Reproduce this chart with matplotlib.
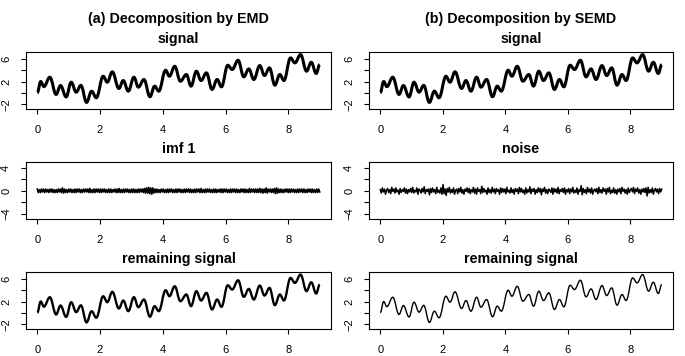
import numpy as np
import matplotlib
matplotlib.use("Agg")
import matplotlib.pyplot as plt
from matplotlib.path import Path
from matplotlib.patches import PathPatch

plt.rcParams['font.family'] = ['Liberation Sans', 'DejaVu Sans']

# ---- data ----
# turning points (peaks / troughs) of the smooth remaining signal
ext_x = [0.0, 0.11, 0.21, 0.40, 0.60, 0.74, 0.92, 1.08, 1.24, 1.39, 1.57, 1.73, 1.88,
         2.10, 2.23, 2.39, 2.60, 2.74, 2.90, 3.08, 3.22, 3.40, 3.59, 3.74, 3.87,
         4.09, 4.21, 4.38, 4.56, 4.75, 4.90, 5.07, 5.22, 5.39, 5.57, 5.73, 5.87,
         6.07, 6.21, 6.40, 6.58, 6.74, 6.90, 7.09, 7.24, 7.40, 7.57, 7.73, 7.86,
         8.07, 8.21, 8.39, 8.58, 8.73, 8.89, 9.0]
ext_y = [0.05, 2.0, 1.1, 2.75, -0.26, 1.3, -0.7, 1.88, 0.14, 1.33, -1.65, 0.31, -0.84,
         2.92, 1.88, 3.69, 0.78, 2.17, 0.31, 2.75, 1.01, 2.35, -0.66, 1.19, 0.31,
         3.97, 2.92, 4.66, 2.05, 3.22, 1.19, 3.8, 2.17, 3.51, 0.61, 2.35, 1.07,
         4.84, 4.09, 5.71, 2.81, 4.2, 2.35, 4.78, 3.04, 4.38, 1.36, 3.22, 2.17,
         6.12, 5.25, 6.7, 3.8, 5.36, 3.39, 4.96]

# high-frequency noise removed by SEMD (values estimated from the band)
noise_semd = [
    0.2, -0.4, 0.5, -0.2, 0.3, -0.6, 0.1, 0.4, -0.3, 0.2, -0.5, 0.6, -0.1, 0.3, -0.4, 0.5, -0.2, 0.1, -0.6, 0.4, -0.3, 0.2, -0.1, 0.5, -0.4, 0.3, -0.5, 0.2, -0.2, 0.4,
    -0.3, 0.6, -0.4, 0.1, -0.2, 0.5, -0.6, 0.3, 0.1, -0.4, 0.4, -0.2, 0.7, -0.5, 0.2, -0.1, 0.3, -0.7, 0.4, -0.3, 0.5, -0.2, 0.2, -0.5, 0.6, -0.3, 0.1, -0.4, 0.5, -0.6,
    1.1, -0.5, 0.3, -0.8, 0.4, -0.2, 0.6, -0.4, 0.2, -0.3, 0.5, -0.6, 0.1, 0.3, -0.5, 0.4, -0.2, 0.6, -0.4, 0.2, -0.6, 0.3, -0.1, 0.5, -0.3, 0.4, -0.5, 0.2, -0.2, 0.6,
    -0.4, 0.3, -0.6, 0.5, -0.1, 0.2, -0.5, 0.8, -0.3, 0.4, -0.2, 0.1, -0.6, 0.5, -0.3, 0.2, -0.4, 0.6, -0.2, 0.3, -0.5, 0.4, -0.1, 0.2, -0.6, 0.5, -0.3, 0.4, -0.2, 0.3,
    -0.5, 0.6, -0.2, 0.1, -0.4, 0.5, -0.3, 0.2, -0.6, 0.4, -0.1, 0.3, -0.5, 0.6, -0.2, 0.4, -0.3, 0.1, -0.6, 0.5, -0.4, 0.2, -0.2, 0.7, -0.5, 0.3, -0.1, 0.4, -0.6, 0.2,
    -0.3, 0.5, -0.2, 0.4, -0.7, 0.3, -0.1, 0.6, -0.4, 0.2, -0.5, 0.3, 0.1, -0.3, 0.5, -0.6, 0.4, -0.2, 0.3, -0.4, 0.6, -0.5, 0.2, -0.1, 0.4, -0.3, 0.5, -0.6, 0.2, -0.2,
    0.4, -0.5, 0.3, -0.2, 0.6, -0.4, 0.1, -0.3, 0.5, -0.6, 0.2, -0.1, 0.9, -0.7, 0.4, -0.3, 0.2, -0.5, 0.6, -0.2, 0.3, -0.4, 0.5, -0.6, 0.1, 0.3, -0.2, 0.4, -0.5, 0.6,
    -0.3, 0.2, -0.4, 0.5, -0.1, 0.3, -0.6, 0.4, -0.2, 0.6, -0.5, 0.1, -0.3, 0.5, -0.4, 0.2, -0.6, 0.3, -0.2, 0.4, -0.5, 0.6, -0.1, 0.3, -0.4, 0.2, -0.6, 0.5, -0.3, 0.1,
    0.4, -0.2, 0.6, -0.5, 0.3, -0.1, 0.5, -0.4, 0.2, -0.6, 0.3, -0.2, 0.4, -0.3, 0.5, -0.9, 0.6, -0.4, 0.2, -0.3, 0.5, -0.6, 0.1, 0.4, -0.2, 0.3, -0.5, 0.4, -0.2, 0.3,
]

# first IMF from EMD (values estimated from the band)
imf1 = [
    0.3, -0.3, 0.2, -0.3, 0.3, -0.2, 0.3, -0.3, 0.3, -0.2, 0.2, -0.3, 0.3, -0.2, 0.3, -0.3, 0.2, -0.3, 0.2, -0.3, 0.3, -0.2, 0.3, -0.3, 0.5, -0.4, 0.3, -0.3, 0.2, -0.3,
    0.3, -0.2, 0.3, -0.3, 0.2, -0.3, 0.3, -0.3, 0.3, -0.2, 0.3, -0.3, 0.2, -0.3, 0.3, -0.2, 0.3, -0.2, 0.3, -0.3, 0.4, -0.3, 0.2, -0.3, 0.3, -0.3, 0.3, -0.2, 0.3, -0.3,
    0.3, -0.3, 0.3, -0.2, 0.3, -0.3, 0.2, -0.3, 0.3, -0.3, 0.3, -0.3, 0.2, -0.2, 0.3, -0.3, 0.3, -0.3, 0.4, -0.3, 0.2, -0.3, 0.3, -0.3, 0.3, -0.2, 0.3, -0.3, 0.2, -0.3,
    0.3, -0.3, 0.3, -0.3, 0.2, -0.3, 0.3, -0.3, 0.3, -0.2, 0.3, -0.3, 0.4, -0.4, 0.5, -0.4, 0.6, -0.5, 0.5, -0.6, 0.5, -0.4, 0.3, -0.3, 0.3, -0.3, 0.2, -0.3, 0.3, -0.2,
    0.3, -0.3, 0.2, -0.3, 0.3, -0.3, 0.3, -0.2, 0.3, -0.3, 0.2, -0.3, 0.3, -0.3, 0.3, -0.2, 0.3, -0.3, 0.2, -0.3, 0.3, -0.3, 0.3, -0.2, 0.3, -0.3, 0.3, -0.3, 0.2, -0.3,
    0.3, -0.3, 0.3, -0.2, 0.3, -0.3, 0.4, -0.3, 0.2, -0.3, 0.3, -0.3, 0.3, -0.2, 0.3, -0.3, 0.2, -0.3, 0.3, -0.3, 0.3, -0.3, 0.2, -0.2, 0.3, -0.3, 0.3, -0.3, 0.3, -0.2,
    0.3, -0.3, 0.2, -0.3, 0.3, -0.3, 0.3, -0.2, 0.3, -0.3, 0.3, -0.3, 0.2, -0.3, 0.3, -0.2, 0.3, -0.3, 0.3, -0.3, 0.2, -0.3, 0.4, -0.3, 0.3, -0.2, 0.3, -0.3, 0.3, -0.3,
    0.3, -0.3, 0.4, -0.3, 0.3, -0.4, 0.3, -0.3, 0.5, -0.4, 0.3, -0.2, 0.3, -0.3, 0.3, -0.3, 0.4, -0.5, 0.5, -0.4, 0.3, -0.3, 0.3, -0.3, 0.2, -0.3, 0.3, -0.2, 0.3, -0.3,
    0.3, -0.3, 0.3, -0.2, 0.3, -0.3, 0.2, -0.3, 0.3, -0.3, 0.3, -0.2, 0.3, -0.3, 0.3, -0.3, 0.2, -0.3, 0.3, -0.2, 0.3, -0.3, 0.3, -0.3, 0.2, -0.3, 0.3, -0.3, 0.3, -0.2,
]

col_titles = ["(a) Decomposition by EMD", "(b) Decomposition by SEMD"]
panel_titles = [["signal", "imf 1", "remaining signal"],
                ["signal", "noise", "remaining signal"]]
x_ticks = [0, 2, 4, 6, 8]
sig_ticks = [-2, 0, 2, 4, 6]
sig_labels = ["\u22122", "", "2", "", "6"]
mid_ticks = [-4, -2, 0, 2, 4]
mid_labels = ["\u22124", "", "0", "", "4"]


def smooth_path(xs, ys, k=0.38):
    verts = [(xs[0], ys[0])]
    codes = [Path.MOVETO]
    for i in range(1, len(xs)):
        d = xs[i] - xs[i - 1]
        verts += [(xs[i - 1] + k * d, ys[i - 1]), (xs[i] - k * d, ys[i]), (xs[i], ys[i])]
        codes += [Path.CURVE4] * 3
    return Path(verts, codes)


W, H = 685, 356
fig = plt.figure(figsize=(W / 100, H / 100), dpi=100)

col_px = [(26, 331), (369, 673)]
row_px = [(52, 109), (162, 219), (272, 329)]

axes = {}
for c, (x0, x1) in enumerate(col_px):
    for r, (y0, y1) in enumerate(row_px):
        ax = fig.add_axes([x0 / W, 1 - y1 / H, (x1 - x0) / W, (y1 - y0) / H])
        axes[(c, r)] = ax
        ax.set_xlim(-0.36, 9.36)
        ax.set_xticks(x_ticks)
        ax.set_xticklabels([str(t) for t in x_ticks])
        if r == 1:
            ax.set_ylim(-4.9, 5.0)
            ax.set_yticks(mid_ticks)
            ax.set_yticklabels(mid_labels)
        else:
            ax.set_ylim(-2.8, 7.15)
            ax.set_yticks(sig_ticks)
            ax.set_yticklabels(sig_labels)
        ax.tick_params(direction='out', length=3.8, width=0.8, labelsize=8, pad=8,
                       colors='black')
        for lab in ax.get_yticklabels():
            lab.set_rotation(90)
            lab.set_va('center')
            lab.set_ha('center')
        ax.tick_params(axis='y', pad=10.5)
        for s in ax.spines.values():
            s.set_linewidth(0.8)
        ax.set_title(panel_titles[c][r], fontsize=10.3, fontweight='bold', pad=6.5)

tx = np.linspace(0, 9, len(noise_semd))
ti = np.linspace(0, 9, len(imf1))

# signal panels
for c in (0, 1):
    axes[(c, 0)].add_patch(PathPatch(smooth_path(ext_x, ext_y), fill=False,
                                     lw=2.2, ec='black', joinstyle='round'))
# middle panels
axes[(0, 1)].plot(ti, imf1, color='black', lw=1.2)
axes[(1, 1)].plot(tx, noise_semd, color='black', lw=1.1)
# remaining signal
axes[(0, 2)].add_patch(PathPatch(smooth_path(ext_x, ext_y), fill=False,
                                 lw=1.7, ec='black', joinstyle='round'))
axes[(1, 2)].add_patch(PathPatch(smooth_path(ext_x, ext_y), fill=False,
                                 lw=1.0, ec='black', joinstyle='round'))

for c, (x0, x1) in enumerate(col_px):
    fig.text((x0 + x1) / 2 / W, 1 - 22.5 / H, col_titles[c], ha='center', va='baseline',
             fontsize=10.3, fontweight='bold')

fig.savefig("out.png", dpi=100)
